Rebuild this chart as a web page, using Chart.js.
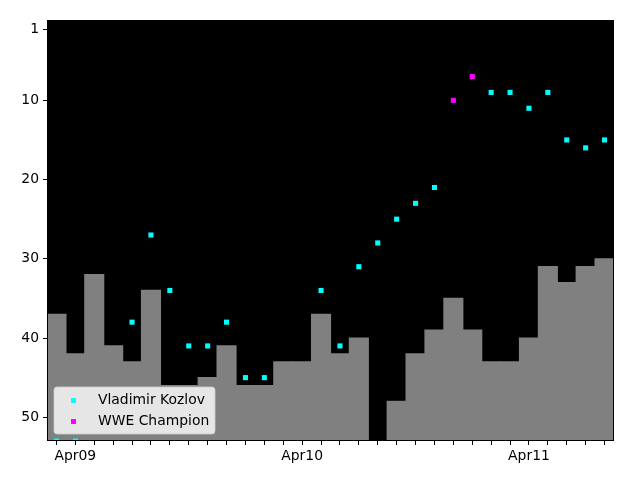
<!DOCTYPE html>
<html>
<head>
<meta charset="utf-8">
<script src="https://cdn.jsdelivr.net/npm/chart.js@4/dist/chart.umd.min.js"></script>
<style>
  html, body { margin: 0; padding: 0; background: #ffffff; }
  #wrap { width: 640px; height: 480px; position: relative; }
</style>
</head>
<body>
<div id="wrap"><canvas id="c" width="640" height="480"></canvas></div>
<script>
const months = ["Mar09","Apr09","May09","Jun09","Jul09","Aug09","Sep09","Oct09","Nov09","Dec09",
  "Jan10","Feb10","Mar10","Apr10","May10","Jun10","Jul10","Aug10","Sep10","Oct10","Nov10","Dec10",
  "Jan11","Feb11","Mar11","Apr11","May11","Jun11","Jul11","Aug11"];
const barRanks = [37,42,32,41,43,34,46,46,45,41,46,46,43,43,37,42,40,null,48,42,39,35,39,43,43,40,31,33,31,30];
const kozlovRanks = [53,53,null,null,38,27,34,41,41,38,45,45,null,null,34,41,31,28,25,23,21,null,null,9,9,11,9,15,16,15];
const championRanks = [null,null,null,null,null,null,null,null,null,null,null,null,null,null,null,null,null,null,null,null,null,10,7,null,null,null,null,null,null,null];
const yTicks = [1,10,20,30,40,50];
const seriesNames = ["Vladimir Kozlov","WWE Champion"];

const FONT = "DejaVu Sans";

const bgPlugin = {
  id: 'plotBg',
  beforeDraw(chart) {
    const {ctx, chartArea: a} = chart;
    ctx.save();
    ctx.fillStyle = '#000000';
    ctx.fillRect(a.left, a.top, a.right - a.left, a.bottom - a.top);
    ctx.restore();
  },
  afterDraw(chart) {
    const {ctx, chartArea: a} = chart;
    ctx.save();
    // frame
    ctx.strokeStyle = '#000000';
    ctx.lineWidth = 1;
    ctx.strokeRect(a.left + 0.5, a.top + 0.5, a.right - a.left - 1, a.bottom - a.top - 1);
    // legend
    const x = a.left + 7, y = a.bottom - 54, w = 161, h = 47, r = 3;
    ctx.beginPath();
    ctx.moveTo(x + r, y);
    ctx.lineTo(x + w - r, y); ctx.quadraticCurveTo(x + w, y, x + w, y + r);
    ctx.lineTo(x + w, y + h - r); ctx.quadraticCurveTo(x + w, y + h, x + w - r, y + h);
    ctx.lineTo(x + r, y + h); ctx.quadraticCurveTo(x, y + h, x, y + h - r);
    ctx.lineTo(x, y + r); ctx.quadraticCurveTo(x, y, x + r, y);
    ctx.closePath();
    ctx.fillStyle = 'rgba(255,255,255,0.8)';
    ctx.fill();
    ctx.strokeStyle = 'rgba(204,204,204,0.8)';
    ctx.lineWidth = 1;
    ctx.stroke();
    const colors = ['#00ffff', '#ff00ff'];
    ctx.font = '13.9px "' + FONT + '"';
    ctx.textBaseline = 'middle';
    ctx.textAlign = 'left';
    for (let i = 0; i < seriesNames.length; i++) {
      const cy = y + 13.5 + i * 21;
      ctx.fillStyle = colors[i];
      ctx.fillRect(x + 17, cy - 2.5, 5, 5);
      ctx.fillStyle = '#000000';
      ctx.fillText(seriesNames[i], x + 44, cy);
    }
    ctx.restore();
  }
};

new Chart(document.getElementById('c'), {
  type: 'bar',
  data: {
    labels: months,
    datasets: [
      {
        type: 'line',
        label: seriesNames[0],
        data: kozlovRanks,
        showLine: false,
        pointStyle: 'rect',
        pointRadius: 3.6,
        pointBorderWidth: 0,
        pointBackgroundColor: '#00ffff',
        borderColor: '#00ffff',
        clip: 0,
        order: 0
      },
      {
        type: 'line',
        label: seriesNames[1],
        data: championRanks,
        showLine: false,
        pointStyle: 'rect',
        pointRadius: 3.6,
        pointBorderWidth: 0,
        pointBackgroundColor: '#ff00ff',
        borderColor: '#ff00ff',
        clip: 0,
        order: 0
      },
      {
        type: 'bar',
        label: 'bars',
        data: barRanks,
        base: 53,
        backgroundColor: '#808080',
        borderWidth: 0,
        inflateAmount: 0.6,
        categoryPercentage: 1.0,
        barPercentage: 1.0,
        order: 5
      }
    ]
  },
  options: {
    responsive: false,
    animation: false,
    devicePixelRatio: 1,
    layout: { padding: { left: 0, right: 26, top: 20, bottom: 0 } },
    plugins: {
      legend: { display: false },
      tooltip: { enabled: false },
      title: { display: false }
    },
    scales: {
      x: {
        type: 'category',
        offset: true,
        grid: { display: true, drawOnChartArea: false, drawTicks: true, tickLength: 4, color: '#000000', offset: false },
        border: { display: false },
        ticks: {
          autoSkip: false,
          maxRotation: 0,
          minRotation: 0,
          padding: 3,
          color: '#000000',
          font: { family: FONT, size: 13.9 },
          callback: function(value) {
            const l = this.getLabelForValue(value);
            return l.startsWith('Apr') ? l : '';
          }
        },
        afterFit(scale) { scale.height = 39; }
      },
      y: {
        type: 'linear',
        reverse: true,
        min: -0.14,
        max: 53,
        grid: { display: true, drawOnChartArea: false, drawTicks: true, tickLength: 4, color: '#000000' },
        border: { display: false },
        afterBuildTicks(scale) { scale.ticks = yTicks.map(v => ({ value: v })); },
        ticks: {
          padding: 4,
          color: '#000000',
          font: { family: FONT, size: 13.9 },
          callback: v => String(v)
        },
        afterFit(scale) { scale.width = 47; }
      }
    }
  },
  plugins: [bgPlugin]
});
</script>
</body>
</html>
